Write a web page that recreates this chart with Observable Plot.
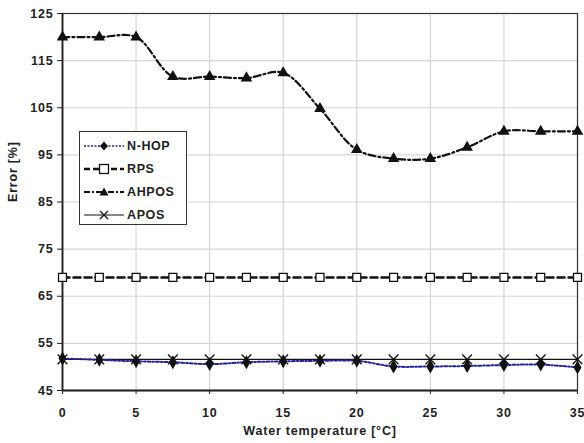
<!DOCTYPE html>
<html><head><meta charset="utf-8">
<script src="https://cdn.jsdelivr.net/npm/d3@7"></script>
<script src="https://cdn.jsdelivr.net/npm/@observablehq/plot@0.6"></script>
<style>
body{margin:0;background:#fff;font-family:"Liberation Sans",Arial,sans-serif;}
#wrap{position:relative;width:584px;height:443px;}
#chart svg text{letter-spacing:0.8px;}
#legend{position:absolute;left:79px;top:131px;width:108px;height:94px;border:1.5px solid #333;background:#fff;box-sizing:border-box;}
#legend div{position:absolute;left:3px;height:20px;display:flex;align-items:center;font-weight:bold;font-size:12.5px;letter-spacing:0.6px;color:#222;}
#legend svg{margin-right:2px;}
</style></head><body>
<div id="wrap"><div id="chart"></div><div id="legend"></div></div>
<script>
const temps = [0,2.5,5,7.5,10,12.5,15,17.5,20,22.5,25,27.5,30,32.5,35];
const nhop  = [51.8,51.5,51.2,51.0,50.6,51.0,51.2,51.3,51.3,50.1,50.1,50.2,50.4,50.5,49.9];
const rps   = [69,69,69,69,69,69,69,69,69,69,69,69,69,69,69];
const ahpos = [120,120,120,111.6,111.6,111.3,112.4,104.8,96.1,94.2,94.2,96.6,100,100,100];
const apos  = [51.6,51.6,51.6,51.6,51.6,51.6,51.6,51.6,51.6,51.6,51.6,51.6,51.6,51.6,51.6];
const xTicks = [0,5,10,15,20,25,30,35];
const yTicks = [45,55,65,75,85,95,105,115,125];
const seriesNames = ["N-HOP","RPS","AHPOS","APOS"];

const mk = v => temps.map((t,i)=>({t, v:v[i]}));
const D = {nhop:mk(nhop), rps:mk(rps), ahpos:mk(ahpos), apos:mk(apos)};

const chart = Plot.plot({
  width:584, height:443,
  marginLeft:62, marginTop:13, marginRight:7, marginBottom:53,
  style:{fontFamily:'"Liberation Sans",Arial,sans-serif', fontSize:"12.5px", fontWeight:"bold", color:"#222", background:"#fff"},
  x:{domain:[0,35], ticks:xTicks, label:null},
  y:{domain:[45,125], ticks:yTicks, label:null},
  marks:[
    Plot.gridX(xTicks,{stroke:"#d6d6d6", strokeOpacity:1, strokeWidth:1.2}),
    Plot.gridY(yTicks,{stroke:"#d6d6d6", strokeOpacity:1, strokeWidth:1.2}),
    Plot.frame({stroke:"#333", strokeWidth:1.2}),
    Plot.axisX({ticks:xTicks, tickSize:4, tickPadding:14, stroke:"#222", fontSize:12.5, fontWeight:"bold", label:null}),
    Plot.axisY({ticks:yTicks, tickSize:5, tickPadding:4, stroke:"#222", fontSize:12.5, fontWeight:"bold", label:null}),
    Plot.ruleY([45],{stroke:"#222", strokeWidth:1.8}),
    Plot.ruleX([0],{stroke:"#222", strokeWidth:1.8}),
    Plot.text(["Water temperature [°C]"],{frameAnchor:"bottom", dy:44, fontSize:12.5, fontWeight:"bold", fill:"#222"}),
    Plot.text(["Error [%]"],{frameAnchor:"left", dx:-50, rotate:-90, fontSize:12.5, fontWeight:"bold", fill:"#222"}),
    // APOS
    Plot.line(D.apos,{x:"t",y:"v",stroke:"#111",strokeWidth:1.2}),
    Plot.dot(D.apos,{x:"t",y:"v",symbol:"times",r:4.5,stroke:"#111",strokeWidth:1.3}),
    // N-HOP
    Plot.line(D.nhop,{x:"t",y:"v",stroke:"#22229a",strokeWidth:2,strokeDasharray:"3,2,1.5,2",curve:"catmull-rom"}),
    Plot.dot(D.nhop,{x:"t",y:"v",symbol:"diamond",r:4.2,fill:"#111"}),
    // RPS
    Plot.line(D.rps,{x:"t",y:"v",stroke:"#111",strokeWidth:2.5,strokeDasharray:"7,4"}),
    Plot.dot(D.rps,{x:"t",y:"v",symbol:"square",r:4.5,fill:"#fff",stroke:"#111",strokeWidth:1.3}),
    // AHPOS
    Plot.line(D.ahpos,{x:"t",y:"v",stroke:"#111",strokeWidth:2.2,strokeDasharray:"7,3,2,3",curve:"catmull-rom"}),
    Plot.dot(D.ahpos,{x:"t",y:"v",symbol:"triangle",r:4.3,fill:"#111"})
  ]
});
document.getElementById("chart").appendChild(chart);

// legend
const legendSpecs = [
  {stroke:"#22229a", w:1.5, dash:"2,1.5", marker:"diamond"},
  {stroke:"#111", w:2.5, dash:"6,3", marker:"square"},
  {stroke:"#111", w:2.2, dash:"6,2,2,2", marker:"triangle"},
  {stroke:"#111", w:1.2, dash:null, marker:"times"}
];
const leg = document.getElementById("legend");
seriesNames.forEach((name,i)=>{
  const s = legendSpecs[i];
  const d = document.createElement("div");
  d.style.top = (4 + i*23) + "px";
  let m = "";
  if (s.marker==="diamond") m = '<path d="M21,5.5 L25,10 L21,14.5 L17,10Z" fill="#111"/>';
  if (s.marker==="square") m = '<rect x="16.5" y="5.5" width="9" height="9" fill="#fff" stroke="#111" stroke-width="1.3"/>';
  if (s.marker==="triangle") m = '<path d="M21,5.5 L25.5,13.5 L16.5,13.5Z" fill="#111"/>';
  if (s.marker==="times") m = '<path d="M17,6 L25,14 M25,6 L17,14" stroke="#111" stroke-width="1.3"/>';
  d.innerHTML = `<svg width="42" height="20"><line x1="1" x2="41" y1="10" y2="10" stroke="${s.stroke}" stroke-width="${s.w}" ${s.dash?`stroke-dasharray="${s.dash}"`:""}/>${m}</svg>${name}`;
  leg.appendChild(d);
});
</script>
</body></html>
